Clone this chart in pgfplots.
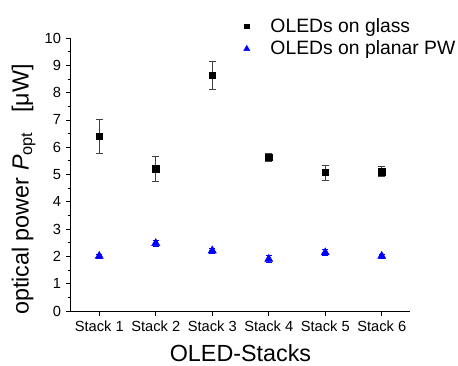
\documentclass[border=0pt]{standalone}
\usepackage{fontspec}
\setmainfont{Liberation Sans}
\usepackage{pgfplots}
\pgfplotsset{compat=1.18}
\begin{document}
\begin{tikzpicture}
\useasboundingbox (-53.25pt,-40.5pt) rectangle (290.25pt,233.25pt);
\begin{axis}[
  scale only axis,
  width=254.25pt, height=204.75pt,
  xmin=0.5, xmax=6.5, ymin=0, ymax=10,
  axis lines*=left,
  tick align=outside,
  xtick={1,2,3,4,5,6},
  xticklabels={Stack 1,Stack 2,Stack 3,Stack 4,Stack 5,Stack 6},
  ytick={0,1,...,10},
  minor y tick num=1,
  major tick length=4pt, minor tick length=2.5pt,
  tick style={black, line width=0.6pt},
  axis line style={line width=0.75pt},
  /pgf/number format/assume math mode=true,
  tick label style={font=\fontsize{11}{13}\selectfont},
  xlabel={OLED-Stacks},
  ylabel={optical power \textit{P}\textsubscript{opt}\ \ \ [μW]},
  label style={font=\fontsize{17.5}{20}\selectfont},
  xlabel style={yshift=-3pt},
  ylabel style={at={(ticklabel cs:0.445)}},
  legend style={at={(0.497,1.093)}, anchor=north west, draw=none, fill=none,
    font=\fontsize{14.5}{17}\selectfont, row sep=1pt, column sep=13.5pt},
  legend image post style={scale=0.75},
  legend cell align=left,
  clip=false,
]
\addplot[only marks, mark=square*, mark size=2.3pt, black,
  error bars/.cd, y dir=both, y explicit,
  error bar style={black!75, line width=0.6pt},
  error mark options={rotate=90, mark size=2.6pt, black!75, line width=0.6pt}]
  coordinates {
  (1,6.40) +- (0,0.63)
  (2,5.21) +- (0,0.47)
  (3,8.62) +- (0,0.51)
  (4,5.64) +- (0,0.15)
  (5,5.07) +- (0,0.28)
  (6,5.10) +- (0,0.18)
  };
\addlegendentry{OLEDs on glass}
\addplot[only marks, mark=triangle*, mark size=3.5pt, blue,
  error bars/.cd, y dir=both, y explicit,
  error bar style={blue, line width=0.6pt},
  error mark options={rotate=90, mark size=2.3pt, blue, line width=0.6pt}]
  coordinates {
  (1,2.01) +- (0,0.08)
  (2,2.48) +- (0,0.10)
  (3,2.21) +- (0,0.09)
  (4,1.90) +- (0,0.12)
  (5,2.14) +- (0,0.10)
  (6,2.01) +- (0,0.07)
  };
\addlegendentry{OLEDs on planar PW}
\end{axis}
\end{tikzpicture}
\end{document}
